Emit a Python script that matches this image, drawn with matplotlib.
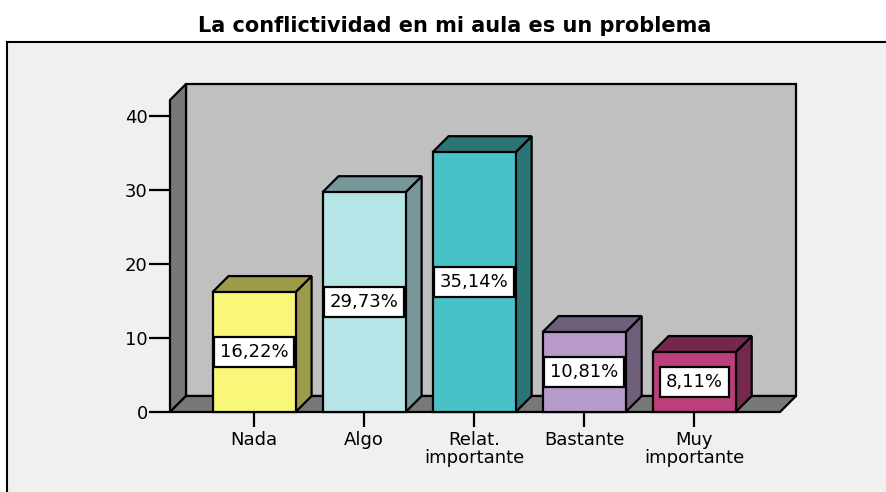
import numpy as np
import matplotlib
matplotlib.use("Agg")
import matplotlib.pyplot as plt
from matplotlib.patches import Polygon, Rectangle

plt.rcParams['font.family'] = ['DejaVu Sans']

categories = ["Nada", "Algo", "Relat.\nimportante", "Bastante", "Muy\nimportante"]
percentages = [16.22, 29.73, 35.14, 10.81, 8.11]
labels = ["16,22%", "29,73%", "35,14%", "10,81%", "8,11%"]
face_colors = ["#f8f77a", "#b5e5e6", "#48c2c7", "#b89aca", "#ba3f7c"]
side_colors = ["#9d9b4a", "#77979a", "#2b7576", "#6e5f7a", "#74284e"]
yticks = [0, 10, 20, 30, 40]

dpi = 100
fig = plt.figure(figsize=(8.87, 4.92), dpi=dpi)
fig.patch.set_facecolor("white")

# outer frame of the chart area
fig.patches.append(Rectangle((7 / 887, -0.05), 1.0, (492 - 42) / 492 + 0.05,
                             transform=fig.transFigure, facecolor="#f0f0f0",
                             edgecolor="black", linewidth=1.5, zorder=-5))
fig.text(455 / 887, 1 - 26 / 492, "La conflictividad en mi aula es un problema",
         ha="center", va="center", fontsize=15, fontweight="bold")

ax = fig.add_axes([170 / 887, 80 / 492, 610 / 887, 312 / 492])
ax.set_facecolor("none")
xl, xr = -0.764, 4.78
ytop = 42.2
ax.set_xlim(xl, xr)
ax.set_ylim(0, ytop)
for s in ax.spines.values():
    s.set_visible(False)

# depth of the 3d effect (16 px) in data units
p0 = ax.transData.transform((0, 0))
ddx, ddy = ax.transData.inverted().transform(p0 + np.array([16, 16]))

lw = 1.6
# back wall, left wall, floor
ax.add_patch(Rectangle((xl + ddx, ddy), xr - xl, ytop, facecolor="#c0c0c0",
                       edgecolor="black", linewidth=lw, clip_on=False, zorder=1))
ax.add_patch(Polygon([(xl, 0), (xl, ytop), (xl + ddx, ytop + ddy), (xl + ddx, ddy)],
                     facecolor="#787878", edgecolor="black", linewidth=lw,
                     clip_on=False, zorder=2))
ax.add_patch(Polygon([(xl, 0), (xr, 0), (xr + ddx, ddy), (xl + ddx, ddy)],
                     facecolor="#787878", edgecolor="black", linewidth=lw,
                     clip_on=False, zorder=2))

x = np.arange(len(categories))
w = 0.755
ax.bar(x, percentages, width=w, color=face_colors, edgecolor="black",
       linewidth=lw, zorder=4, clip_on=False)
for xi, v, sc in zip(x, percentages, side_colors):
    a, b = xi - w / 2, xi + w / 2
    ax.add_patch(Polygon([(b, 0), (b + ddx, ddy), (b + ddx, v + ddy), (b, v)],
                         facecolor=sc, edgecolor="black", linewidth=lw,
                         clip_on=False, zorder=3))
    ax.add_patch(Polygon([(a, v), (b, v), (b + ddx, v + ddy), (a + ddx, v + ddy)],
                         facecolor=sc, edgecolor="black", linewidth=lw,
                         clip_on=False, zorder=3))

for xi, v, lab in zip(x, percentages, labels):
    ax.text(xi, v / 2, lab, ha="center", va="center", fontsize=13, zorder=6,
            bbox=dict(boxstyle="square,pad=0.33", facecolor="white",
                      edgecolor="black", linewidth=lw))

ax.set_yticks(yticks)
ax.set_xticks(x)
ax.set_xticklabels(categories, fontsize=13, linespacing=0.95)
ax.tick_params(axis="y", length=15, width=lw, labelsize=13, pad=1)
ax.tick_params(axis="x", length=11, width=lw, pad=3)

fig.savefig("out.png", dpi=dpi)
